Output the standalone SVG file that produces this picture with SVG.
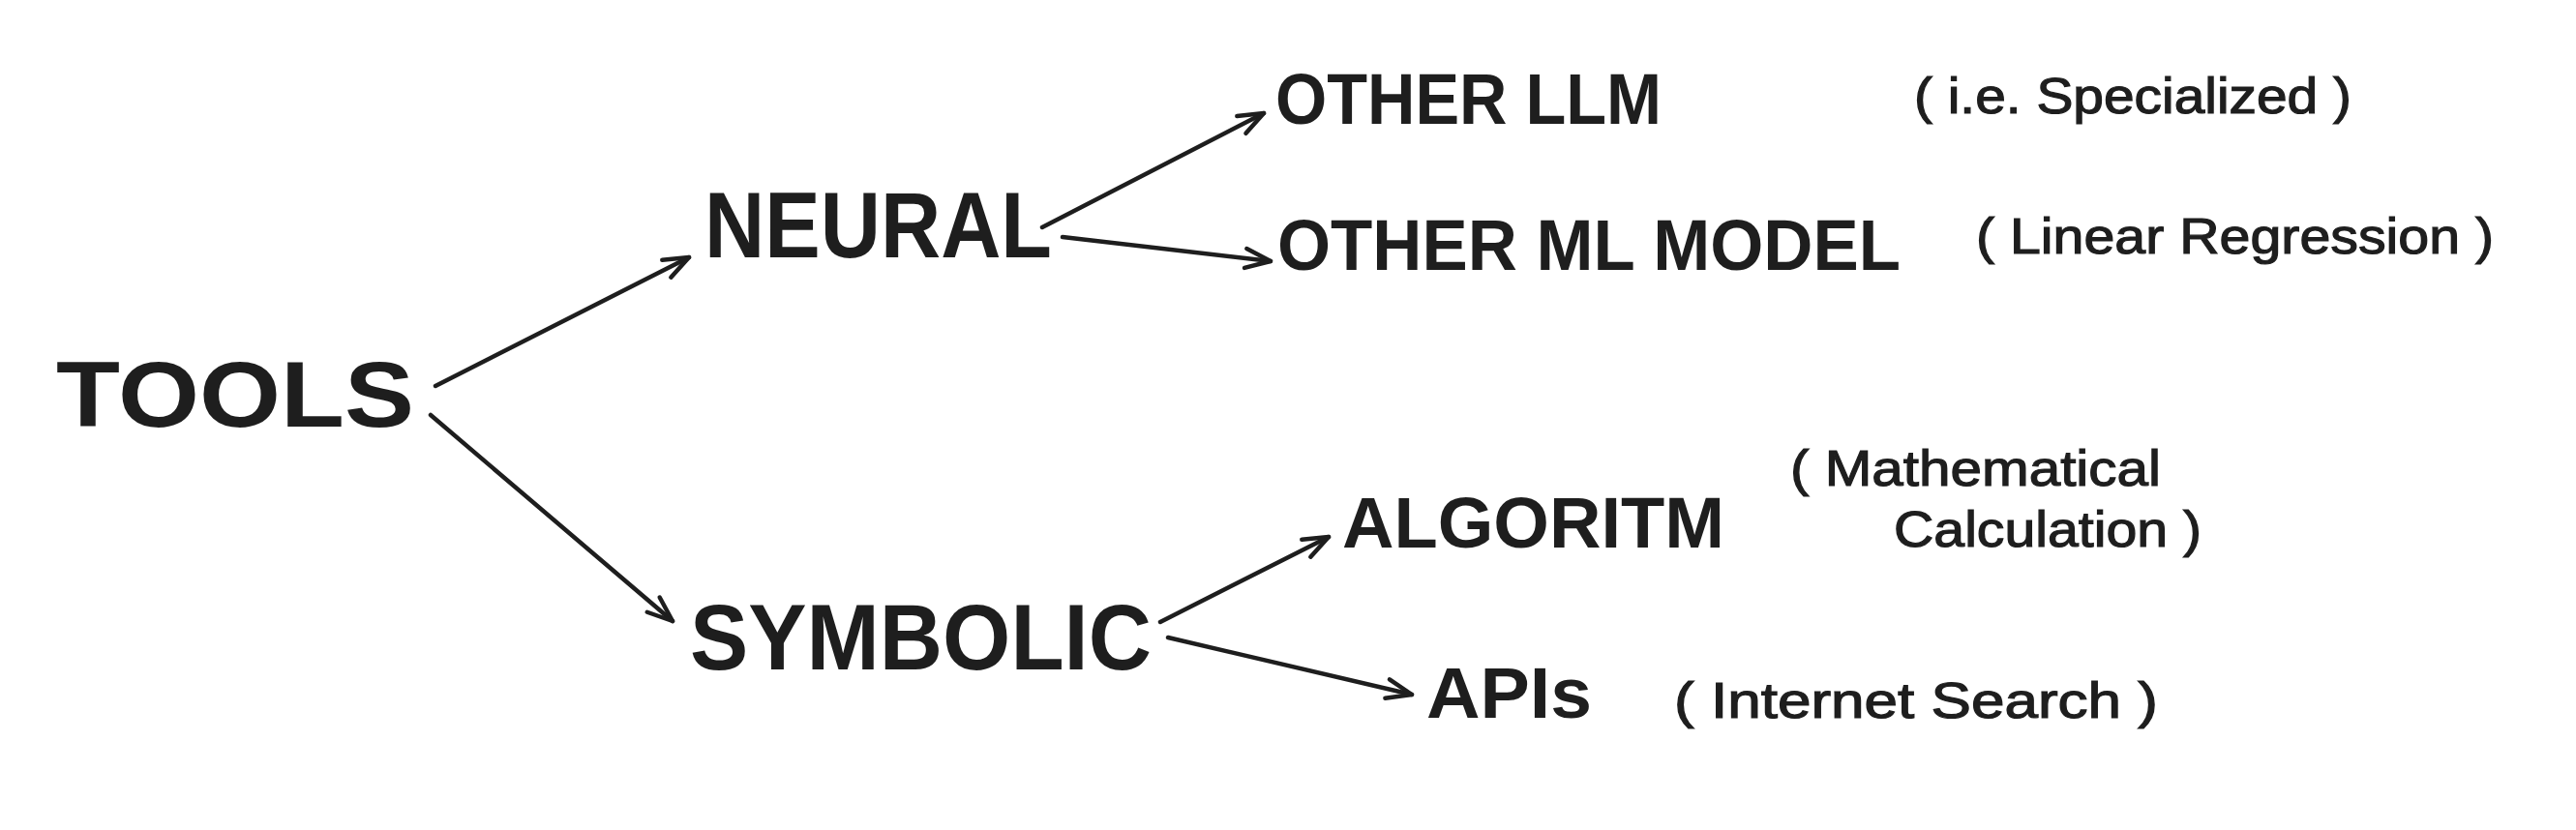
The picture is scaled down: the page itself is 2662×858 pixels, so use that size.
<svg xmlns="http://www.w3.org/2000/svg" width="2662" height="858" viewBox="0 0 2662 858">
<defs>
<style>
.big{font-family:"Liberation Sans",Arial,sans-serif;font-size:96px;font-weight:bold;fill:#1e1e1e;}
.mid{font-family:"Liberation Sans",Arial,sans-serif;font-size:74px;font-weight:bold;fill:#1e1e1e;}
.note{font-family:"Liberation Sans",Arial,sans-serif;font-size:52px;fill:#1e1e1e;stroke:#1e1e1e;stroke-width:1.2;}
.edge{stroke:#1e1e1e;stroke-width:4.5;fill:none;stroke-linecap:round;marker-end:url(#arr);}
</style>
<marker id="arr" markerUnits="userSpaceOnUse" viewBox="-32 -16 36 32" refX="0" refY="0" markerWidth="36" markerHeight="32" orient="auto">
<path d="M -26 -10 L 0 0 L -26 10" fill="none" stroke="#1e1e1e" stroke-width="4.5" stroke-linecap="round" stroke-linejoin="round"/>
</marker>
</defs>
<rect width="2662" height="858" fill="#ffffff"/>
<g id="connectors">
<path class="edge" d="M 450 399 L 712 266"/>
<path class="edge" d="M 445 429 L 695 642"/>
<path class="edge" d="M 1077 235 L 1306 117"/>
<path class="edge" d="M 1098 245 L 1313 270"/>
<path class="edge" d="M 1199 643 L 1373 555"/>
<path class="edge" d="M 1207 659 L 1459 718"/>
</g>
<g id="node-tools"><text class="big" x="58" y="441" textLength="370" lengthAdjust="spacingAndGlyphs">TOOLS</text></g>
<g id="node-neural"><text class="big" x="728" y="266" textLength="359" lengthAdjust="spacingAndGlyphs">NEURAL</text></g>
<g id="node-symbolic"><text class="big" x="713" y="692" textLength="477" lengthAdjust="spacingAndGlyphs">SYMBOLIC</text></g>
<g id="node-other-llm"><text class="mid" x="1318" y="128" textLength="399" lengthAdjust="spacingAndGlyphs">OTHER LLM</text></g>
<g id="node-other-ml"><text class="mid" x="1320" y="279" textLength="644" lengthAdjust="spacingAndGlyphs">OTHER ML MODEL</text></g>
<g id="node-algoritm"><text class="mid" x="1387" y="566" textLength="395" lengthAdjust="spacingAndGlyphs">ALGORITM</text></g>
<g id="node-apis"><text class="mid" x="1474" y="742" textLength="171" lengthAdjust="spacingAndGlyphs">APIs</text></g>
<g id="note-specialized"><text class="note" x="1978" y="117" textLength="452" lengthAdjust="spacingAndGlyphs">( i.e. Specialized )</text></g>
<g id="note-linear"><text class="note" x="2042" y="262" textLength="535" lengthAdjust="spacingAndGlyphs">( Linear Regression )</text></g>
<g id="note-math">
<text class="note" x="1850" y="502" textLength="383" lengthAdjust="spacingAndGlyphs">( Mathematical</text>
<text class="note" x="1957" y="565" textLength="318" lengthAdjust="spacingAndGlyphs">Calculation )</text>
</g>
<g id="note-internet"><text class="note" x="1730" y="742" textLength="500" lengthAdjust="spacingAndGlyphs">( Internet Search )</text></g>
</svg>
